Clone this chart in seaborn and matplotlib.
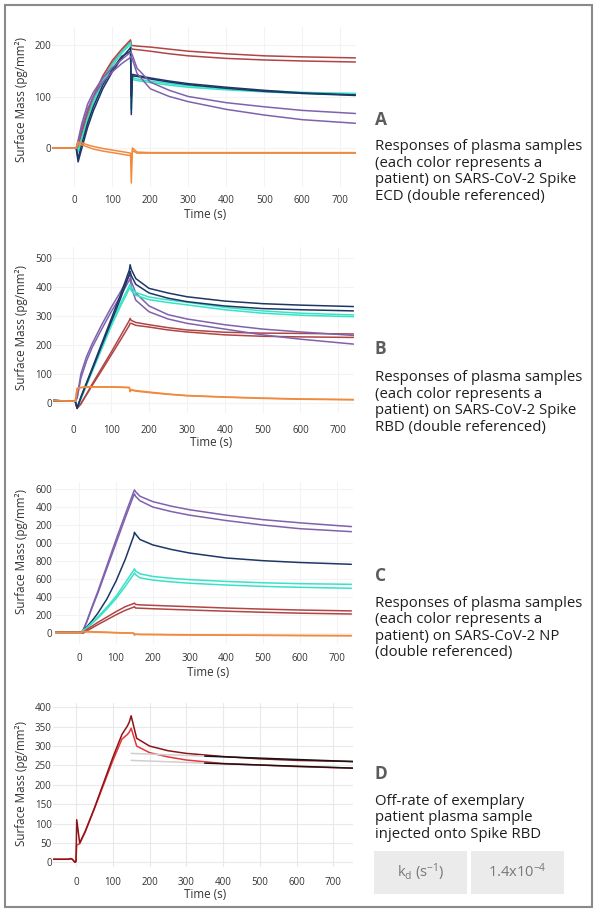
import numpy as np
import pandas as pd
import matplotlib.pyplot as plt
from matplotlib.patches import Rectangle
import seaborn as sns

# time points (s)
t_abc = [-65, 5, 10, 20, 35, 50, 75, 100, 125, 148, 150, 153, 165, 200, 250, 300, 400, 500, 600, 740]
t_d = [-62, -20, -15, -10, -3, 0, 2, 10, 25, 50, 75, 100, 125, 140, 145, 150, 165, 200, 250, 300, 400, 500, 600, 754]

# A - Spike ECD
a_red1 = [0, 0, 2, 35, 70, 100, 140, 170, 192, 210, 200, 199, 198, 196, 192, 188, 183, 179, 177, 175]
a_red2 = [0, 0, 0, 28, 62, 92, 133, 165, 188, 206, 194, 192, 191, 188, 183, 179, 174, 171, 169, 167]
a_navy1 = [0, 0, -27, 0, 40, 72, 115, 148, 175, 195, 65, 143, 141, 136, 130, 125, 118, 112, 107, 103]
a_navy2 = [0, 0, -20, 8, 48, 80, 122, 153, 178, 188, 100, 140, 139, 134, 128, 123, 116, 110, 106, 102]
a_teal1 = [0, 0, -5, 20, 58, 90, 132, 163, 187, 205, 75, 137, 134, 130, 125, 121, 115, 111, 108, 106]
a_teal2 = [0, 0, -8, 17, 55, 87, 128, 160, 184, 202, 110, 133, 131, 127, 122, 118, 113, 109, 106, 104]
a_purple1 = [0, 0, 15, 48, 85, 108, 136, 156, 172, 186, 185, 180, 155, 128, 112, 100, 88, 80, 73, 67]
a_purple2 = [0, 0, 10, 40, 76, 100, 128, 148, 164, 176, 178, 172, 145, 115, 100, 90, 75, 64, 55, 48]
a_orange1 = [0, 0, 12, 10, 6, 3, -1, -4, -7, -10, -68, 0, -8, -9, -9, -9, -9, -9, -9, -9]
a_orange2 = [0, 0, 8, 6, 2, -2, -6, -9, -12, -15, -30, -5, -10, -10, -10, -10, -10, -10, -10, -10]

# B - Spike RBD
b_navy1 = [8, 5, -20, 20, 70, 120, 205, 290, 375, 460, 478, 462, 430, 396, 380, 367, 352, 343, 338, 333]
b_navy2 = [8, 5, -18, 18, 66, 115, 198, 280, 362, 445, 455, 440, 410, 380, 362, 350, 335, 326, 322, 318]
b_teal1 = [8, 5, -15, 15, 65, 115, 195, 275, 345, 405, 410, 398, 382, 366, 356, 348, 330, 318, 310, 304]
b_teal2 = [8, 5, -15, 12, 60, 108, 186, 265, 335, 395, 398, 388, 372, 357, 347, 339, 322, 310, 303, 298]
b_purple1 = [8, 5, 20, 100, 160, 205, 270, 330, 385, 440, 448, 420, 380, 335, 305, 290, 270, 255, 245, 233]
b_purple2 = [8, 5, 15, 85, 145, 192, 255, 315, 370, 425, 430, 400, 355, 315, 290, 275, 255, 235, 220, 203]
b_red1 = [8, 5, -20, -5, 30, 65, 120, 175, 232, 285, 292, 285, 278, 270, 260, 252, 244, 241, 240, 238]
b_red2 = [8, 5, -15, -2, 28, 60, 112, 165, 218, 268, 275, 275, 268, 262, 252, 245, 235, 230, 228, 226]
b_orange1 = [8, 5, 50, 53, 55, 55, 55, 55, 54, 53, 40, 45, 42, 37, 30, 25, 20, 16, 13, 11]
b_orange2 = [8, 5, 48, 52, 54, 54, 54, 54, 53, 52, 38, 44, 40, 35, 29, 24, 19, 15, 12, 10]

# C - NP
c_purple1 = [10, 10, 30, 130, 300, 460, 750, 1040, 1320, 1570, 1590, 1570, 1520, 1460, 1410, 1370, 1310, 1260, 1225, 1183]
c_purple2 = [10, 10, 30, 120, 285, 440, 720, 1000, 1280, 1530, 1545, 1520, 1470, 1400, 1350, 1310, 1250, 1200, 1160, 1127]
c_navy = [10, 10, 30, 70, 140, 220, 380, 580, 820, 1080, 1120, 1100, 1040, 980, 930, 890, 835, 805, 785, 765]
c_teal1 = [10, 10, 30, 60, 120, 180, 290, 410, 560, 700, 715, 690, 660, 630, 610, 595, 575, 560, 550, 543]
c_teal2 = [10, 10, 30, 55, 110, 165, 270, 385, 520, 655, 670, 650, 615, 590, 570, 555, 535, 520, 510, 499]
c_red1 = [10, 10, 10, 40, 80, 120, 180, 240, 295, 330, 335, 320, 315, 310, 302, 295, 280, 268, 258, 248]
c_red2 = [10, 10, 0, 25, 60, 95, 150, 205, 255, 290, 295, 280, 278, 272, 265, 258, 245, 233, 223, 214]
c_orange1 = [10, 10, 20, 20, 18, 15, 12, 8, 5, 2, -20, -10, -12, -13, -15, -17, -20, -22, -24, -26]
c_orange2 = [8, 8, 15, 16, 14, 12, 9, 5, 2, 0, -15, -12, -14, -15, -17, -19, -21, -23, -25, -27]
c_yticks = [0, 200, 400, 600, 800, 1000, 1200, 1400, 1600]
c_yticklabels = ['0', '200', '400', '600', '800', '000', '200', '400', '600']

# D - off-rate, one patient on Spike RBD
d_dark = [8, 8, 10, 8, 0, 2, 110, 50, 80, 140, 205, 270, 330, 352, 362, 378, 320, 300, 288, 281, 273, 267, 263, 260]
d_red = [8, 8, 9, 8, 1, 3, 45, 48, 78, 138, 200, 262, 318, 330, 336, 346, 300, 283, 272, 264, 255, 251, 247, 243]
d_fit_t = [150, 350, 754]
d_fit_hi = [281, 274, 260]
d_fit_lo = [263, 256, 243]

x_ticks = [0, 100, 200, 300, 400, 500, 600, 700]

RED, NAVY, TEAL, PURPLE, ORANGE = '#b04545', '#1e3766', '#38e2c6', '#7f62ad', '#f08a3e'

sns.set_theme(style='white')
plt.rcParams['font.family'] = ['Open Sans', 'DejaVu Sans']
plt.rcParams['mathtext.fontset'] = 'custom'
plt.rcParams['mathtext.rm'] = 'Open Sans'
plt.rcParams['mathtext.it'] = 'Open Sans'

W, H = 598, 911
fig = plt.figure(figsize=(W / 100, H / 100), dpi=100)
fig.patch.set_facecolor('white')


def box(l, t, r, b):
    return [l / W, 1 - b / H, (r - l) / W, (b - t) / H]


def style_ax(ax, xlim, ylim, grid_col, ypad, xpad):
    ax.set_xlim(*xlim)
    ax.set_ylim(*ylim)
    ax.set_xticks(x_ticks)
    ax.grid(True, color=grid_col, lw=0.8)
    ax.tick_params(length=0, labelsize=7, colors='#333333')
    ax.tick_params(axis='y', pad=ypad)
    ax.tick_params(axis='x', pad=xpad)
    ax.set_xlabel('')
    ax.set_ylabel('')
    sns.despine(ax=ax, left=True, bottom=True)


def draw(ax, t, series):
    for vals, col in series:
        sns.lineplot(x=t, y=vals, color=col, lw=1.1, ax=ax)


# panel A
axA = fig.add_axes(box(51.5, 27, 355.5, 186.6))
draw(axA, t_abc, [(a_red1, RED), (a_red2, RED), (a_teal1, TEAL), (a_teal2, TEAL),
                  (a_navy1, NAVY), (a_navy2, NAVY), (a_purple1, PURPLE), (a_purple2, PURPLE),
                  (a_orange1, ORANGE), (a_orange2, ORANGE)])
style_ax(axA, (-60, 740), (-75, 235), '#f3f3f3', 0, 6)
axA.set_yticks([0, 100, 200])

# panel B
axB = fig.add_axes(box(52.5, 246.8, 353.5, 412.8))
draw(axB, t_abc, [(b_red1, RED), (b_red2, RED), (b_purple1, PURPLE), (b_purple2, PURPLE),
                  (b_teal1, TEAL), (b_teal2, TEAL), (b_navy1, NAVY), (b_navy2, NAVY),
                  (b_orange1, ORANGE), (b_orange2, ORANGE)])
style_ax(axB, (-55, 740), (-35, 540), '#f3f3f3', 0, 8.5)
axB.set_yticks([0, 100, 200, 300, 400, 500])

# panel C
axC = fig.add_axes(box(55.4, 481.8, 353.2, 644.1))
draw(axC, t_abc, [(c_purple1, PURPLE), (c_purple2, PURPLE), (c_navy, NAVY),
                  (c_teal1, TEAL), (c_teal2, TEAL), (c_red1, RED), (c_red2, RED),
                  (c_orange1, ORANGE), (c_orange2, ORANGE)])
style_ax(axC, (-65, 745), (-120, 1680), '#f3f3f3', 2, 6.5)
axC.set_yticks(c_yticks)
axC.set_yticklabels(c_yticklabels)

# panel D
axD = fig.add_axes(box(53.2, 703.4, 353.2, 867))
draw(axD, t_d, [(d_red, '#e8353b'), (d_dark, '#8c1416')])
sns.lineplot(x=d_fit_t[:2], y=d_fit_hi[:2], color='#cfcfcf', lw=1.1, ax=axD)
sns.lineplot(x=d_fit_t[:2], y=d_fit_lo[:2], color='#cfcfcf', lw=1.1, ax=axD)
sns.lineplot(x=d_fit_t[1:], y=d_fit_hi[1:], color='#151515', lw=1.1, ax=axD)
sns.lineplot(x=d_fit_t[1:], y=d_fit_lo[1:], color='#151515', lw=1.1, ax=axD)
style_ax(axD, (-62, 754), (-12, 410), '#e9e9e9', 1, 7)
axD.set_yticks(np.arange(0, 401, 50))

# axis titles
for yc, xc, yt in [(100, 205, 215), (327, 211, 443), (552, 208, 672), (783, 205, 895)]:
    fig.text(22 / W, 1 - yc / H, 'Surface Mass (pg/mm²)', rotation=90, ha='center', va='center',
             fontsize=8.4, color='#333333')
    fig.text(xc / W, 1 - yt / H, 'Time (s)', ha='center', va='center', fontsize=8.4, color='#333333')

# captions on the right
captions = [
    ('A', 125, [150, 167, 183, 200], ['Responses of plasma samples', '(each color represents a',
                                      'patient) on SARS-CoV-2 Spike', 'ECD (double referenced)']),
    ('B', 354, [381, 398, 414, 431], ['Responses of plasma samples', '(each color represents a',
                                      'patient) on SARS-CoV-2 Spike', 'RBD (double referenced)']),
    ('C', 581, [607, 623, 640, 656], ['Responses of plasma samples', '(each color represents a',
                                      'patient) on SARS-CoV-2 NP', '(double referenced)']),
    ('D', 779, [805, 821, 838], ['Off-rate of exemplary', 'patient plasma sample',
                                 'injected onto Spike RBD']),
]
for letter, ly, ys, lines in captions:
    fig.text(375 / W, 1 - ly / H, letter, fontsize=12.5, fontweight='bold', color='#5c5c5c', va='baseline')
    for y, line in zip(ys, lines):
        fig.text(375 / W, 1 - y / H, line, fontsize=10.7, color='#1e1e1e', va='baseline')

# k_d table
for l, r, txt in [(374, 467, r'k$_\mathrm{d}$ (s$^{-1}$)'), (471, 564, r'1.4x10$^{-4}$')]:
    fig.patches.append(Rectangle((l / W, 1 - 894 / H), (r - l) / W, 43 / H, transform=fig.transFigure,
                                 facecolor='#ebebeb', edgecolor='none'))
    fig.text((l + r) / 2 / W, 1 - 872 / H, txt, ha='center', va='center', fontsize=10.5, color='#777777')

# outer frame
fig.patches.append(Rectangle((5 / W, 1 - 907 / H), 587 / W, 902 / H, transform=fig.transFigure,
                             facecolor='none', edgecolor='#8a8a8a', lw=1.5))

fig.savefig('out.png', dpi=100)
